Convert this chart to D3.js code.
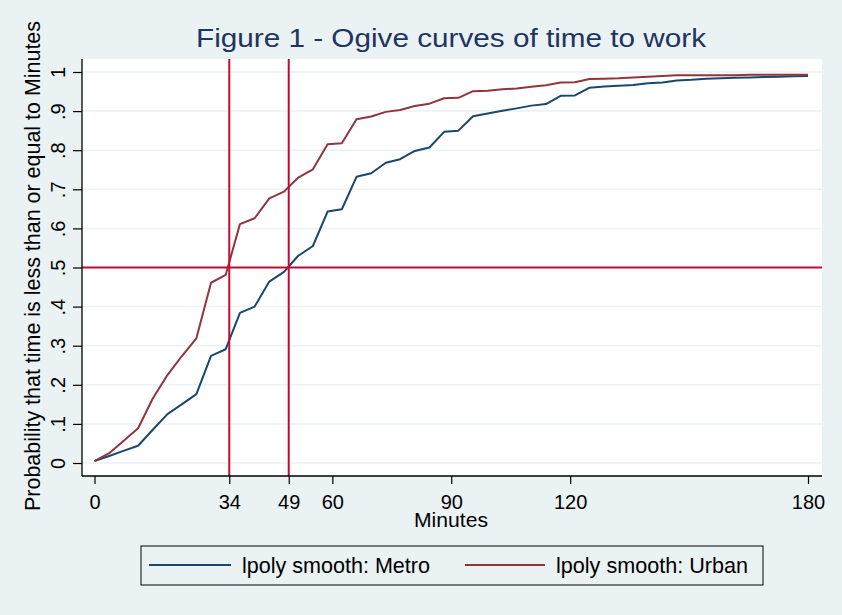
<!DOCTYPE html>
<html>
<head>
<meta charset="utf-8">
<script src="https://cdn.jsdelivr.net/npm/d3@7"></script>
<style>
  html, body { margin: 0; padding: 0; background: #EAF2F3; }
  svg { display: block; }
  text { font-family: "Liberation Sans", Arial, sans-serif; }
</style>
</head>
<body>
<svg id="chart" width="842" height="615"></svg>
<script>
// ---- data ----
const minutes = [0, 3.7, 7.3, 11.0, 14.7, 18.4, 22.0, 25.7, 29.4, 33.1,
  36.7, 40.4, 44.1, 47.8, 51.4, 55.1, 58.8, 62.4, 66.1, 69.8,
  73.5, 77.1, 80.8, 84.5, 88.2, 91.8, 95.5, 99.2, 102.9, 106.5,
  110.2, 113.9, 117.6, 121.2, 124.9, 128.6, 132.2, 135.9, 139.6, 143.3,
  146.9, 150.6, 154.3, 158.0, 161.6, 165.3, 169.0, 172.7, 176.3, 180];
const metro = [0.005, 0.018, 0.031, 0.044, 0.085, 0.125, 0.150, 0.176, 0.274, 0.291,
  0.384, 0.400, 0.464, 0.489, 0.530, 0.555, 0.643, 0.649, 0.732, 0.741,
  0.768, 0.777, 0.798, 0.807, 0.847, 0.850, 0.887, 0.894, 0.901, 0.907,
  0.914, 0.918, 0.939, 0.940, 0.960, 0.963, 0.965, 0.967, 0.971, 0.973,
  0.978, 0.980, 0.983, 0.984, 0.985, 0.986, 0.987, 0.988, 0.989, 0.990];
const urban = [0.005, 0.025, 0.056, 0.089, 0.165, 0.225, 0.273, 0.319, 0.461, 0.481,
  0.611, 0.626, 0.677, 0.694, 0.730, 0.751, 0.815, 0.818, 0.879, 0.886,
  0.898, 0.903, 0.913, 0.919, 0.933, 0.934, 0.951, 0.952, 0.956, 0.958,
  0.962, 0.966, 0.973, 0.974, 0.982, 0.983, 0.984, 0.986, 0.988, 0.990,
  0.992, 0.992, 0.992, 0.992, 0.992, 0.993, 0.993, 0.993, 0.993, 0.993];
const seriesNames = ["lpoly smooth: Metro", "lpoly smooth: Urban"];
const xTicks = [0, 34, 49, 60, 90, 120, 180];
const yTicks = [0, 0.1, 0.2, 0.3, 0.4, 0.5, 0.6, 0.7, 0.8, 0.9, 1];
const yTickLabels = ["0", ".1", ".2", ".3", ".4", ".5", ".6", ".7", ".8", ".9", "1"];
const refMinutes = [34, 49];
const refProb = [0.5];

// ---- layout ----
const plot = { left: 82, right: 822, top: 59, bottom: 476 };
const colors = { metro: "#1A476F", urban: "#90353B", ref: "#C30A35", grid: "#EAF2F3", bg: "#EAF2F3" };

const svg = d3.select("#chart");
const x = d3.scaleLinear().domain([0, 180]).range([94.5, 808]);
const y = d3.scaleLinear().domain([0, 1]).range([463, 72]);

svg.append("rect").attr("width", 842).attr("height", 615).attr("fill", colors.bg);
svg.append("rect").attr("x", plot.left).attr("y", plot.top)
  .attr("width", plot.right - plot.left).attr("height", plot.bottom - plot.top).attr("fill", "#fff");

// gridlines
svg.append("g").selectAll("line").data(yTicks).join("line")
  .attr("x1", plot.left).attr("x2", plot.right)
  .attr("y1", d => y(d)).attr("y2", d => y(d))
  .attr("stroke", colors.grid).attr("stroke-width", 1.5);

// curves
const line = d3.line().x((d, i) => x(minutes[i])).y(d => y(d));
svg.append("path").datum(metro).attr("d", line).attr("fill", "none")
  .attr("stroke", colors.metro).attr("stroke-width", 2).attr("stroke-linejoin", "round");
svg.append("path").datum(urban).attr("d", line).attr("fill", "none")
  .attr("stroke", colors.urban).attr("stroke-width", 2).attr("stroke-linejoin", "round");

// reference lines
svg.append("g").selectAll("line").data(refMinutes).join("line")
  .attr("x1", d => x(d)).attr("x2", d => x(d))
  .attr("y1", plot.top).attr("y2", plot.bottom)
  .attr("stroke", colors.ref).attr("stroke-width", 2);
svg.append("g").selectAll("line").data(refProb).join("line")
  .attr("x1", plot.left).attr("x2", plot.right)
  .attr("y1", d => y(d)).attr("y2", d => y(d))
  .attr("stroke", colors.ref).attr("stroke-width", 2);

// axes
const xAxis = svg.append("g").attr("transform", `translate(0,${plot.bottom})`)
  .call(d3.axisBottom(x).tickValues(xTicks).tickFormat(d3.format("d")).tickSize(8).tickPadding(11));
xAxis.select(".domain").remove();
xAxis.selectAll(".tick line").attr("stroke", "#000").attr("stroke-width", 1.2);
xAxis.selectAll(".tick text").attr("font-size", 20).attr("fill", "#000")
  .attr("font-family", '"Liberation Sans", Arial, sans-serif');
svg.append("line").attr("x1", plot.left).attr("x2", plot.right)
  .attr("y1", plot.bottom).attr("y2", plot.bottom).attr("stroke", "#000").attr("stroke-width", 1.3);

const yAxis = svg.append("g").attr("transform", `translate(${plot.left},0)`)
  .call(d3.axisLeft(y).tickValues(yTicks).tickFormat((d, i) => yTickLabels[i]).tickSize(9));
yAxis.select(".domain").remove();
yAxis.selectAll(".tick line").attr("stroke", "#000").attr("stroke-width", 1.2);
yAxis.selectAll(".tick text").attr("font-size", 20).attr("fill", "#000")
  .attr("font-family", '"Liberation Sans", Arial, sans-serif')
  .attr("x", 0).attr("y", 0).attr("dy", 0).attr("text-anchor", "middle")
  .attr("transform", "translate(-17.5,0) rotate(-90)");
svg.append("line").attr("x1", plot.left).attr("x2", plot.left)
  .attr("y1", plot.top).attr("y2", plot.bottom).attr("stroke", "#000").attr("stroke-width", 1.3);

// titles
svg.append("text").attr("x", 451).attr("y", 47).attr("text-anchor", "middle")
  .attr("font-size", 26).attr("fill", "#1F3461")
  .attr("textLength", 510).attr("lengthAdjust", "spacingAndGlyphs")
  .text("Figure 1 - Ogive curves of time to work");
svg.append("text").attr("x", 451).attr("y", 527).attr("text-anchor", "middle")
  .attr("font-size", 20).attr("fill", "#000")
  .attr("textLength", 74).attr("lengthAdjust", "spacingAndGlyphs")
  .text("Minutes");
svg.append("text").attr("transform", "translate(40,266) rotate(-90)").attr("text-anchor", "middle")
  .attr("font-size", 22).attr("fill", "#000")
  .attr("textLength", 490).attr("lengthAdjust", "spacingAndGlyphs")
  .text("Probability that time is less than or equal to Minutes");

// legend
const legend = svg.append("g");
legend.append("rect").attr("x", 141).attr("y", 546).attr("width", 622).attr("height", 39)
  .attr("fill", colors.bg).attr("stroke", "#000").attr("stroke-width", 1);
const legItems = [
  { name: seriesNames[0], color: colors.metro, x1: 149, x2: 231, tx: 242, tl: 188 },
  { name: seriesNames[1], color: colors.urban, x1: 465, x2: 545, tx: 556, tl: 192 }
];
legItems.forEach(it => {
  legend.append("line").attr("x1", it.x1).attr("x2", it.x2).attr("y1", 565).attr("y2", 565)
    .attr("stroke", it.color).attr("stroke-width", 2);
  legend.append("text").attr("x", it.tx).attr("y", 573).attr("font-size", 22).attr("fill", "#000")
    .attr("textLength", it.tl).attr("lengthAdjust", "spacingAndGlyphs").text(it.name);
});
</script>
</body>
</html>
